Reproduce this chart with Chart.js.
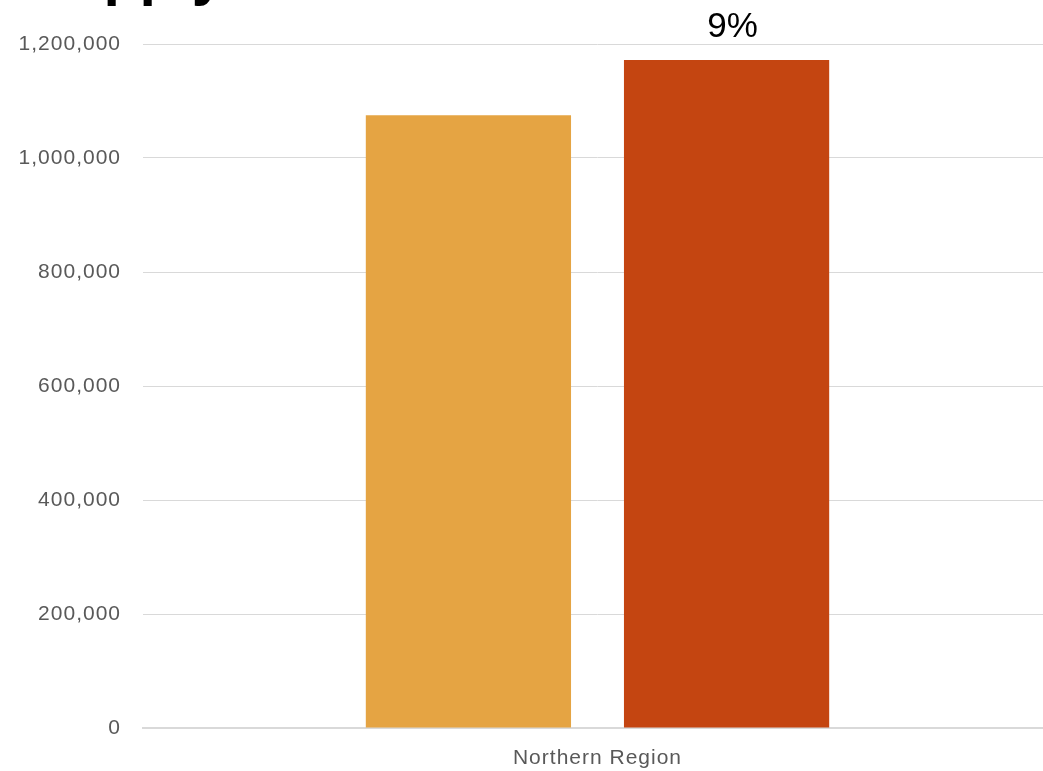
<!DOCTYPE html>
<html>
<head>
<meta charset="utf-8">
<script src="https://cdn.jsdelivr.net/npm/chart.js@4.4.1/dist/chart.umd.min.js"></script>
<style>
  html, body { margin: 0; padding: 0; background: #ffffff; overflow: hidden; }
  /* plot runs a little past the right edge of the window */
  #wrap { width: 1052px; height: 771px; }
</style>
</head>
<body>
<div id="wrap"><canvas id="barChart"></canvas></div>
<script>
// values
const categories = ["Northern Region"];
const seriesNames = ["Before", "After"];
const beforeValues = [1075000];
const afterValues = [1172000];
const seriesColors = ["#E5A443", "#C44511"];
const yTicks = [0, 200000, 400000, 600000, 800000, 1000000, 1200000];
const titleText = "Supply";

// percent change shown over the second bar
const changeLabels = afterValues.map((v, i) =>
  Math.round((v / beforeValues[i] - 1) * 100) + "%"
);

const FONT = "'Liberation Sans', Arial, sans-serif";

// title sits mostly above the canvas; only its lower part shows
const titlePlugin = {
  id: "cutTitle",
  beforeDraw(chart) {
    const ctx = chart.ctx;
    ctx.save();
    ctx.fillStyle = "#000000";
    ctx.font = "bold 59px " + FONT;
    ctx.textAlign = "left";
    ctx.textBaseline = "alphabetic";
    ctx.fillText(titleText, 28, -6);
    ctx.restore();
    // axis labels are drawn slightly spaced out
    ctx.letterSpacing = "1px";
  },
};

const changePlugin = {
  id: "changeLabel",
  afterDatasetsDraw(chart) {
    const ctx = chart.ctx;
    const meta = chart.getDatasetMeta(1);
    ctx.save();
    ctx.letterSpacing = "0px";
    ctx.fillStyle = "#000000";
    ctx.font = "35px " + FONT;
    ctx.textAlign = "center";
    ctx.textBaseline = "alphabetic";
    meta.data.forEach((bar, i) => {
      ctx.fillText(changeLabels[i], bar.x + 6, bar.y - 23);
    });
    ctx.restore();
  },
};

const ctx = document.getElementById("barChart").getContext("2d");

new Chart(ctx, {
  type: "bar",
  data: {
    labels: categories,
    datasets: [
      {
        label: seriesNames[0],
        data: beforeValues,
        backgroundColor: seriesColors[0],
      },
      {
        label: seriesNames[1],
        data: afterValues,
        backgroundColor: seriesColors[1],
      },
    ],
  },
  options: {
    responsive: true,
    maintainAspectRatio: false,
    animation: false,
    categoryPercentage: 0.568,
    barPercentage: 0.795,
    layout: { padding: { top: 44, right: 0, bottom: 0, left: 0 } },
    plugins: {
      legend: { display: false },
      tooltip: { enabled: false },
    },
    scales: {
      x: {
        z: 1,
        grid: { display: false, drawTicks: false },
        border: { display: true, color: "#D9D9D9", width: 2 },
        ticks: {
          color: "#595959",
          font: { family: FONT, size: 21 },
          padding: 18,
        },
        afterFit(scale) {
          scale.height = 43;
        },
      },
      y: {
        min: 0,
        max: 1200000,
        afterBuildTicks(scale) {
          scale.ticks = yTicks.map((v) => ({ value: v }));
        },
        grid: { color: "#D9D9D9", lineWidth: 1, drawTicks: false },
        border: { display: false },
        ticks: {
          color: "#595959",
          font: { family: FONT, size: 21 },
          padding: 22,
          callback: (v) => v.toLocaleString("en-US"),
        },
        afterFit(scale) {
          scale.width = 143;
        },
      },
    },
  },
  plugins: [titlePlugin, changePlugin],
});
</script>
</body>
</html>
